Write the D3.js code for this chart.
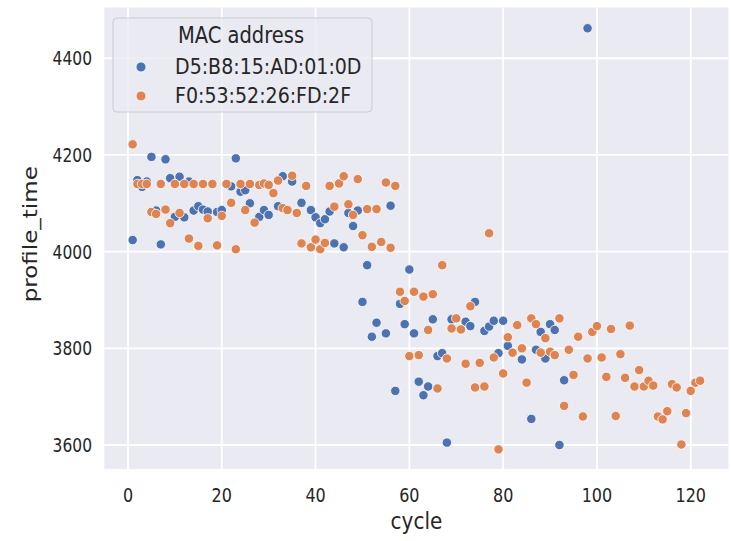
<!DOCTYPE html>
<html>
<head>
<meta charset="utf-8">
<script src="https://cdn.jsdelivr.net/npm/d3@7"></script>
<style>
  body { margin: 0; background: #ffffff; }
  text { font-family: "DejaVu Sans", sans-serif; fill: #262626; }
</style>
</head>
<body>
<div id="chart"></div>
<script>
// series
const macNames = ["D5:B8:15:AD:01:0D", "F0:53:52:26:FD:2F"];
const colors = ["#4c72b0", "#dd8452"];

const blueCycles = [1, 2, 3, 4, 5, 6, 7, 8, 9, 10, 11, 12, 13, 14, 15, 16, 17, 18, 19, 20,
    21, 22, 23, 24, 25, 26, 28, 29, 30, 32, 33, 35, 37, 39, 40, 41, 42, 43, 44, 46,
    47, 48, 49, 50, 51, 52, 53, 55, 56, 57, 58, 59, 60, 61, 62, 63, 64, 65, 66, 67,
    68, 69, 72, 73, 74, 76, 77, 78, 79, 80, 81, 84, 86, 87, 88, 89, 90, 91, 92, 93, 98];
const blueTimes = [4024, 4148, 4134, 4145, 4196, 4085, 4015, 4191, 4152, 4072, 4155, 4071, 4145, 4085, 4094, 4087, 4083, 4140, 4082, 4086,
    4140, 4135, 4193, 4124, 4127, 4100, 4072, 4086, 4076, 4094, 4156, 4145, 4101, 4086, 4071, 4059, 4067, 4083, 4017, 4009,
    4080, 4053, 4085, 3896, 3972, 3824, 3853, 3831, 4095, 3712, 3892, 3850, 3963, 3831, 3731, 3703, 3721, 3860, 3784, 3790,
    3605, 3860, 3855, 3846, 3896, 3836, 3845, 3857, 3790, 3857, 3805, 3777, 3654, 3797, 3834, 3779, 3850, 3838, 3600, 3734, 4462];

const orangeCycles = [1, 2, 3, 4, 5, 6, 7, 8, 9, 10, 11, 12, 13, 14, 15, 16, 17, 18, 19, 20,
    21, 22, 23, 24, 25, 26, 27, 28, 29, 30, 31, 32, 33, 34, 35, 36, 37, 38, 39, 40,
    41, 42, 43, 44, 45, 46, 47, 48, 49, 50, 51, 52, 53, 54, 55, 56, 57, 58, 59, 60,
    61, 62, 63, 64, 65, 66, 67, 68, 69, 70, 71, 72, 73, 74, 75, 76, 77, 78, 79, 80,
    81, 82, 83, 84, 85, 86, 87, 88, 89, 90, 91, 92, 93, 94, 95, 96, 97, 98, 99, 100,
    101, 102, 103, 104, 105, 106, 107, 108, 109, 110, 111, 112, 113, 114, 115, 116, 117, 118, 119, 120,
    121, 122];
const orangeTimes = [4222, 4140, 4140, 4140, 4082, 4078, 4140, 4087, 4059, 4140, 4080, 4140, 4027, 4140, 4012, 4140, 4069, 4140, 4013, 4074,
    4140, 4101, 4005, 4140, 4086, 4140, 4060, 4138, 4141, 4138, 4121, 4147, 4090, 4086, 4157, 4080, 4017, 4136, 4009, 4025,
    4005, 4018, 4136, 4093, 4141, 4156, 4098, 4076, 4150, 4034, 4088, 4010, 4088, 4020, 4143, 4008, 4136, 3917, 3898, 3784,
    3917, 3786, 3907, 3838, 3912, 3717, 3972, 3779, 3841, 3862, 3839, 3768, 3887, 3719, 3770, 3721, 4038, 3781, 3591, 3748,
    3823, 3791, 3848, 3800, 3729, 3862, 3850, 3791, 3821, 3793, 3786, 3862, 3681, 3797, 3745, 3824, 3659, 3779, 3834, 3846,
    3781, 3741, 3840, 3660, 3788, 3739, 3847, 3721, 3755, 3721, 3733, 3723, 3659, 3653, 3670, 3726, 3719, 3601, 3666, 3712,
    3729, 3733];

const xTicks = [0, 20, 40, 60, 80, 100, 120];
const yTicks = [3600, 3800, 4000, 4200, 4400];

const width = 731, height = 541;
const plot = { left: 104.3, right: 728.5, top: 7.5, bottom: 469 };
const stretch = 1.15;     // text in the picture is a bit taller than wide
const tickStretch = 1.25;

const svg = d3.select("#chart").append("svg")
    .attr("width", width)
    .attr("height", height);

const x = d3.scaleLinear().domain([-5.05, 128.05]).range([plot.left, plot.right]);
const y = d3.scaleLinear().domain([3550.4, 4505]).range([plot.bottom, plot.top]);

// background
svg.append("rect")
    .attr("x", plot.left).attr("y", plot.top)
    .attr("width", plot.right - plot.left)
    .attr("height", plot.bottom - plot.top)
    .attr("fill", "#eaeaf2");

// grid
svg.append("g").selectAll("line").data(xTicks).join("line")
    .attr("x1", d => x(d)).attr("x2", d => x(d))
    .attr("y1", plot.top).attr("y2", plot.bottom)
    .attr("stroke", "#fff").attr("stroke-width", 1.8);
svg.append("g").selectAll("line").data(yTicks).join("line")
    .attr("x1", plot.left).attr("x2", plot.right)
    .attr("y1", d => y(d)).attr("y2", d => y(d))
    .attr("stroke", "#fff").attr("stroke-width", 1.8);

// tick labels
svg.append("g").selectAll("text").data(xTicks).join("text")
    .attr("transform", d => `translate(${x(d)},${502}) scale(1,${tickStretch})`)
    .attr("text-anchor", "middle")
    .style("font-size", "16px")
    .text(d => d);
svg.append("g").selectAll("text").data(yTicks).join("text")
    .attr("transform", d => `translate(92,${y(d) + 7}) scale(1,${tickStretch})`)
    .attr("text-anchor", "end")
    .style("font-size", "15.5px")
    .text(d => d);

// axis labels
svg.append("text")
    .attr("transform", `translate(${(plot.left + plot.right) / 2},${529}) scale(1,${stretch})`)
    .attr("text-anchor", "middle")
    .style("font-size", "20px")
    .text("cycle");
svg.append("text")
    .attr("transform", `translate(37,${(plot.top + plot.bottom) / 2 - 4}) scale(1,${stretch}) rotate(-90)`)
    .attr("text-anchor", "middle")
    .style("font-size", "20px")
    .text("profile_time");

// points
const series = [
    { cycles: blueCycles, times: blueTimes, color: colors[0] },
    { cycles: orangeCycles, times: orangeTimes, color: colors[1] }
];
series.forEach(s => {
    const pts = s.cycles.map((c, i) => ({ c: c, t: s.times[i] }));
    svg.append("g").selectAll("circle").data(pts).join("circle")
        .attr("cx", d => x(d.c))
        .attr("cy", d => y(d.t))
        .attr("r", 4.7)
        .attr("fill", s.color)
        .attr("stroke", "#fff")
        .attr("stroke-width", 0.8);
});

// legend
const lg = svg.append("g");
lg.append("rect")
    .attr("x", 113).attr("y", 18)
    .attr("width", 259).attr("height", 94)
    .attr("rx", 4)
    .attr("fill", "#eaeaf2").attr("fill-opacity", 0.8)
    .attr("stroke", "#cccccc").attr("stroke-width", 1);
lg.append("text")
    .attr("transform", `translate(241,43) scale(1,${stretch})`)
    .attr("text-anchor", "middle")
    .style("font-size", "19.5px")
    .text("MAC address");
macNames.forEach((name, i) => {
    const yy = 67 + i * 29;
    lg.append("circle")
        .attr("cx", 141).attr("cy", yy).attr("r", 5)
        .attr("fill", colors[i]).attr("stroke", "#fff").attr("stroke-width", 0.8);
    lg.append("text")
        .attr("transform", `translate(175,${yy + 7}) scale(1,${stretch})`)
        .style("font-size", "19px")
        .text(name);
});
</script>
</body>
</html>
